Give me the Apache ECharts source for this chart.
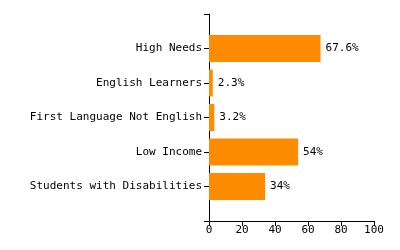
<!DOCTYPE html>
<html>
<head>
<meta charset="utf-8">
<script src="https://cdn.jsdelivr.net/npm/echarts@6/dist/echarts.min.js"></script>
<style>html,body{margin:0;padding:0;background:#fff;}#c{width:400px;height:250px;}</style>
</head>
<body>
<div id="c"></div>
<script>
var categories = ['', 'High Needs', 'English Learners', 'First Language Not English', 'Low Income', 'Students with Disabilities', ''];
var values = [null, 67.6, 2.3, 3.2, 54, 34, null];
var xTicks = [0, 20, 40, 60, 80, 100];
var font = 'DejaVu Sans Mono';
var chart = echarts.init(document.getElementById('c'), null, {renderer: 'canvas'});
chart.setOption({
  animation: false,
  backgroundColor: '#fff',
  grid: {left: 209, right: 26, top: 14, bottom: 29, containLabel: false},
  xAxis: {
    type: 'value', min: xTicks[0], max: xTicks[xTicks.length - 1], interval: 20,
    axisLine: {show: true, lineStyle: {color: '#000', width: 1}},
    axisTick: {show: true, length: 5, lineStyle: {color: '#000'}},
    axisLabel: {color: '#000', fontFamily: font, fontSize: 11, margin: 4},
    splitLine: {show: false}
  },
  yAxis: {
    type: 'category', data: categories, inverse: true, boundaryGap: false,
    axisLine: {show: true, lineStyle: {color: '#000', width: 1}},
    axisTick: {show: true, length: 5, lineStyle: {color: '#000'}},
    axisLabel: {color: '#000', fontFamily: font, fontSize: 11, margin: 7, interval: 0},
    splitLine: {show: false}
  },
  series: [{
    type: 'bar', data: values, barWidth: 27,
    itemStyle: {color: '#FF8C00'},
    label: {show: true, position: 'right', distance: 5, color: '#000', fontFamily: font, fontSize: 11,
      formatter: function (p) { return p.value == null ? '' : p.value + '%'; }}
  }]
});
</script>
</body>
</html>
